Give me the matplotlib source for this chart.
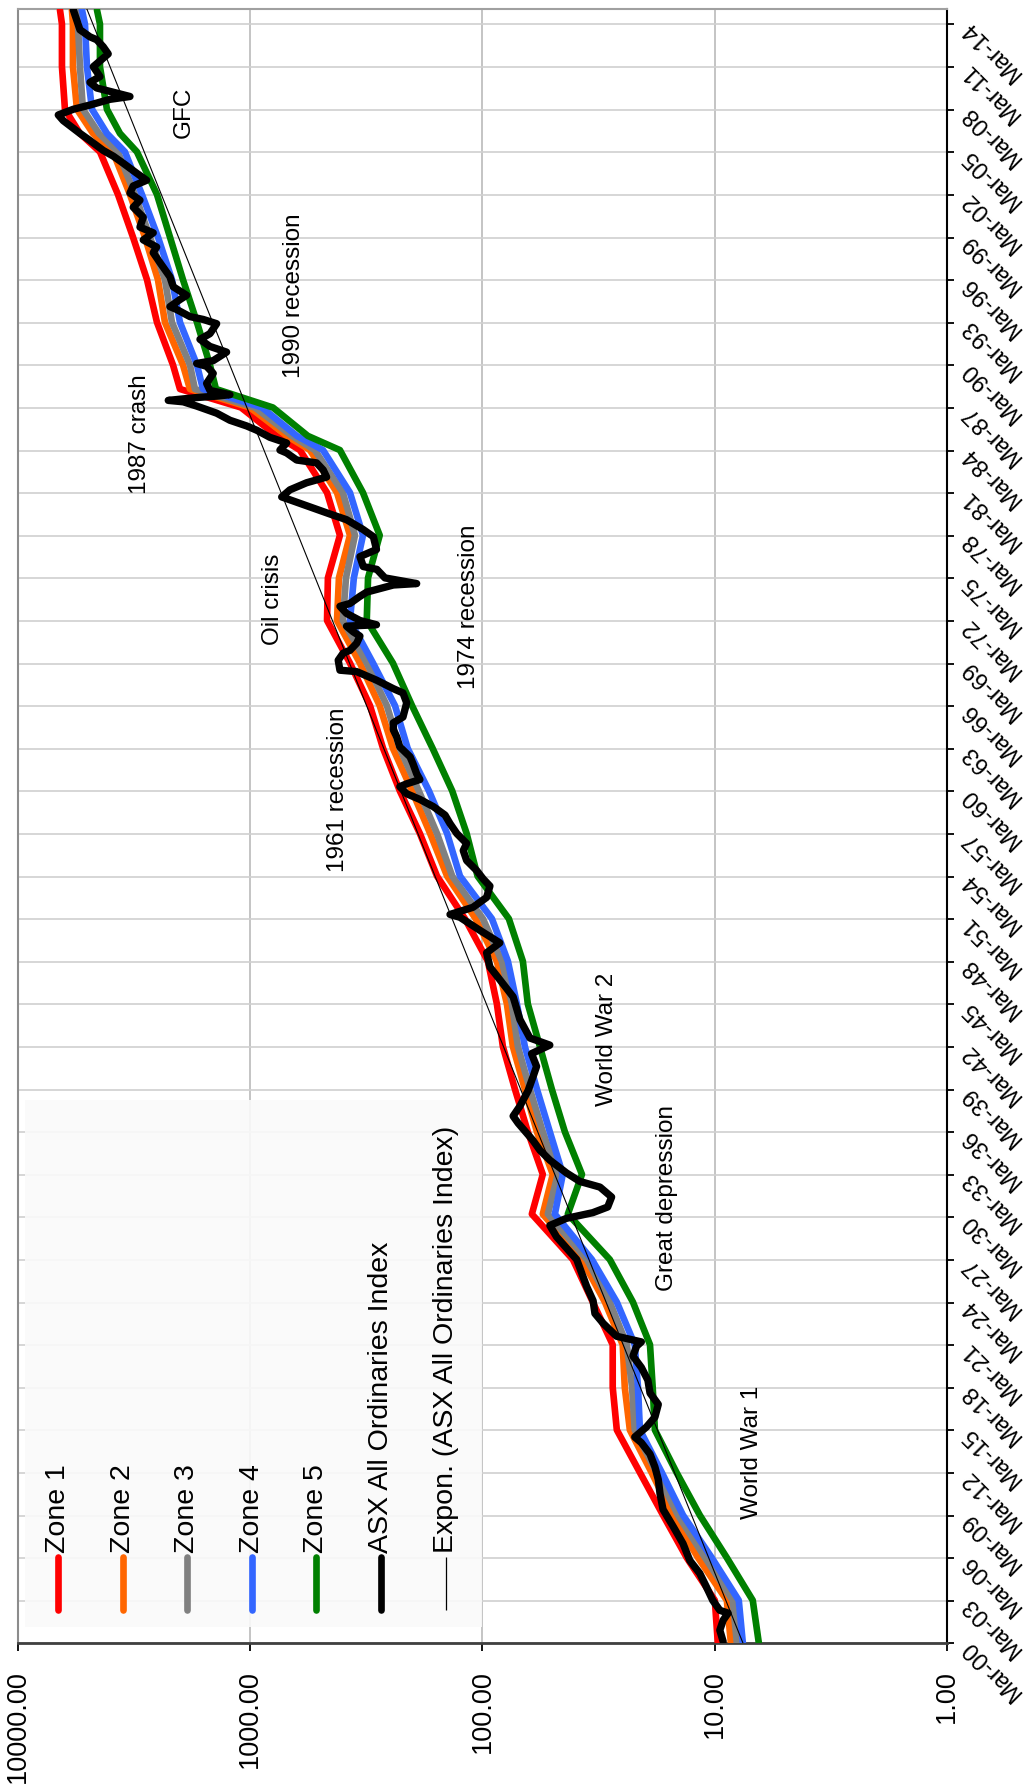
import matplotlib
matplotlib.use("Agg")
import matplotlib.pyplot as plt
from matplotlib.patches import Rectangle
from matplotlib.ticker import NullLocator

plt.rcParams["font.family"] = ["Liberation Sans", "DejaVu Sans"]

# 各ゾーンの読み取り値 (3年ごと)
zone_years = [1900.2, 1903.2, 1906.2, 1909.2, 1912.2, 1915.2, 1918.2, 1921.2, 1924.2, 1927.2,
              1930.4, 1933.2, 1936.2, 1939.2, 1942.2, 1945.2, 1948.2, 1951.2, 1954.2, 1957.2,
              1960.2, 1963.2, 1966.2, 1969.2, 1972.2, 1975.2, 1978.2, 1981.2, 1984.2, 1985.2,
              1987.2, 1988.5, 1990.2, 1993.2, 1996.2, 1999.2, 2002.2, 2005.2, 2006.5, 2008.2,
              2011.2, 2014.2, 2015.2]
zone1 = [9.70, 9.99, 13.2, 16.7, 21.0, 26.4, 27.5, 27.5, 33.5, 40.8,
         61.3, 55.0, 63.8, 72.5, 81.7, 86.7, 94.8, 119, 157, 186,
         227, 268, 305, 372, 467, 463, 411, 467, 611, 768,
         1096, 2007, 2151, 2521, 2783, 3198, 3711, 4436, 5409, 6277,
         6466, 6466, 6595]
zone2 = [8.52, 8.87, 11.8, 15.2, 18.7, 23.2, 24.4, 24.9, 29.7, 37.3,
         55.0, 49.8, 58.3, 65.7, 74.0, 78.5, 86.7, 107, 142, 168,
         201, 243, 277, 337, 423, 415, 372, 423, 553, 695,
         1003, 1818, 1948, 2329, 2496, 2840, 3295, 3899, 4754, 5572,
         5798, 5798, 5856]
zone3 = [8.03, 8.36, 11.0, 14.4, 17.8, 22.1, 22.7, 23.9, 28.3, 35.5,
         52.3, 47.4, 55.0, 62.5, 70.4, 74.7, 82.5, 99.6, 135, 157,
         188, 227, 258, 315, 399, 387, 354, 399, 527, 661,
         955, 1730, 1818, 2173, 2329, 2703, 3136, 3711, 4480, 5251,
         5409, 5517, 5572]
zone4 = [7.57, 7.88, 10.3, 13.7, 16.9, 21.0, 21.4, 22.1, 26.4, 33.8,
         48.8, 45.1, 51.3, 58.3, 65.7, 71.1, 77.7, 91.1, 125, 142,
         170, 210, 238, 296, 372, 358, 327, 372, 486, 630,
         890, 1598, 1696, 2007, 2173, 2496, 2926, 3463, 4140, 4801,
         5047, 5148, 5303]
zone5 = [6.46, 6.86, 8.87, 11.6, 14.6, 18.1, 18.5, 19.0, 22.5, 28.3,
         42.9, 37.3, 44.2, 50.3, 56.6, 63.8, 67.0, 77.0, 105, 117,
         135, 164, 201, 243, 315, 311, 277, 327, 411, 565,
         799, 1405, 1491, 1696, 1948, 2216, 2521, 3074, 3638, 4140,
         4436, 4436, 4570]

# ASX All Ordinaries Index
asx_years = [1900.3, 1901.1, 1901.8, 1902.3, 1902.5, 1903.2, 1904.2, 1905.1, 1906.0, 1907.2,
             1908.4, 1909.6, 1910.7, 1911.7, 1912.6, 1913.5, 1914.3, 1914.7, 1915.4, 1916.1,
             1917.0, 1917.8, 1918.7, 1919.6, 1920.4, 1921.1, 1921.4, 1921.8, 1922.7, 1923.4,
             1924.3, 1925.3, 1927.2, 1928.8, 1929.6, 1930.1, 1930.5, 1930.9, 1931.6, 1932.3,
             1932.7, 1933.3, 1934.2, 1934.9, 1935.6, 1936.8, 1937.3, 1938.0, 1939.1, 1940.1,
             1940.8, 1941.7, 1942.3, 1942.8, 1944.1, 1945.7, 1946.9, 1947.8, 1948.8, 1949.5,
             1950.4, 1951.3, 1951.5, 1952.0, 1952.7, 1953.5, 1954.0, 1954.6, 1955.3, 1956.0,
             1956.5, 1957.2, 1957.9, 1958.5, 1959.1, 1959.6, 1960.0, 1960.5, 1960.7, 1961.0,
             1961.4, 1962.1, 1962.6, 1963.3, 1964.0, 1964.5, 1965.0, 1965.4, 1966.4, 1967.1,
             1967.4, 1968.0, 1968.6, 1968.7, 1969.4, 1969.9, 1970.1, 1970.6, 1971.1, 1971.4,
             1971.8, 1971.9, 1972.2, 1972.7, 1973.2, 1973.4, 1973.9, 1974.2, 1974.7, 1974.8,
             1975.2, 1975.8, 1976.0, 1976.7, 1977.2, 1978.1, 1978.6, 1979.3, 1979.7, 1980.2,
             1980.7, 1980.9, 1981.4, 1981.9, 1982.3, 1982.8, 1983.3, 1983.5, 1984.0, 1984.2,
             1984.7, 1985.1, 1985.6, 1985.9, 1986.3, 1986.8, 1987.3, 1987.6, 1987.7, 1987.9,
             1988.0, 1988.1, 1988.4, 1988.9, 1989.6, 1990.1, 1990.3, 1990.5, 1991.1, 1991.5,
             1992.0, 1992.4, 1993.1, 1993.4, 1993.6, 1994.1, 1994.3, 1994.8, 1995.1, 1995.7,
             1996.4, 1997.4, 1998.1, 1998.5, 1999.0, 1999.5, 1999.9, 2000.6, 2001.3, 2001.8,
             2002.3, 2002.8, 2003.2, 2003.7, 2004.4, 2004.9, 2005.3, 2006.0, 2006.5, 2007.4,
             2007.8, 2008.2, 2008.5, 2008.9, 2009.1, 2009.4, 2009.7, 2010.1, 2010.5, 2011.2,
             2011.7, 2012.1, 2012.6, 2013.1, 2013.3, 2013.8, 2014.5, 2015.2]
asx_values = [9.20, 9.51, 9.20, 8.76, 9.51, 10.2, 10.9, 11.6, 12.8, 13.7,
              15.1, 16.7, 17.2, 17.5, 18.1, 19.0, 20.7, 22.1, 19.7, 18.1,
              17.5, 19.0, 19.4, 20.7, 22.5, 21.7, 20.7, 26.5, 30.2, 32.8,
              33.4, 35.6, 39.3, 48.0, 51.3, 43.5, 33.5, 28.9, 27.8, 31.2,
              38.1, 43.5, 51.3, 56.6, 60.7, 70.2, 73.8, 69.0, 63.6, 60.5,
              58.5, 61.5, 51.3, 62.5, 69.0, 73.8, 84.2, 92.9, 96.0, 84.2,
              103, 125, 138, 110, 96.0, 92.9, 99.3, 106, 117, 121,
              117, 129, 138, 145, 163, 186, 212, 227, 212, 186,
              192, 199, 205, 227, 234, 242, 242, 220, 212, 220,
              242, 286, 348, 411, 418, 398, 372, 348, 337, 360,
              385, 286, 337, 385, 411, 372, 337, 315, 242, 192,
              263, 285, 326, 337, 286, 295, 326, 385, 454, 553,
              675, 732, 675, 572, 469, 485, 518, 631, 697, 745,
              697, 823, 938, 1036, 1223, 1395, 1701, 1943, 2254, 1701,
              1395, 1223, 1491, 1541, 1443, 1541, 1701, 1443, 1264, 1491,
              1646, 1491, 1395, 1593, 1818, 2074, 2216, 2007, 1878, 2145,
              2216, 2447, 2616, 2529, 2888, 2616, 2984, 2888, 3189, 2984,
              3295, 3189, 2793, 3083, 3522, 3888, 4294, 4898, 5409, 6383,
              6707, 5780, 4898, 4018, 3295, 3888, 4584, 4898, 4436, 4740,
              4362, 4087, 4294, 4584, 4898, 5409, 5589, 5780]

# 指数近似線の両端
trend_years = [1900.17, 2015.24]
trend_values = [7.55, 5045]

# 凡例
legend_labels = ["Zone 1", "Zone 2", "Zone 3", "Zone 4", "Zone 5",
                 "ASX All Ordinaries Index", "Expon. (ASX All Ordinaries Index)"]
legend_colors = ["#ff0000", "#ff6600", "#808080", "#3366ff", "#008000", "black", "black"]

# 注記
note_texts = ["GFC", "1990 recession", "1987 crash", "Oil crisis", "1974 recession",
              "1961 recession", "World War 2", "Great depression", "World War 1"]
note_values = [1930, 649, 2984, 798, 114, 419, 29.1, 16.1, 6.92]
note_years = [2008.0, 1995.1, 1985.3, 1973.7, 1973.2, 1960.3, 1942.7, 1931.5, 1913.6]

value_ticks = [10000, 1000, 100, 10, 1]
value_labels = ["10000.00", "1000.00", "100.00", "10.00", "1.00"]
date_ticks = [y + 0.17 for y in range(1900, 2015, 3)]
date_labels = ["Mar-%02d" % (y % 100) for y in range(1900, 2015, 3)]

fig = plt.figure(figsize=(10.27, 17.89), dpi=100)
ax = fig.add_axes([0.0175, 0.0814, 0.9046, 0.9134])

zones = [zone1, zone2, zone3, zone4, zone5]
for z, c in zip(zones, legend_colors[:5]):
    ax.plot(z, zone_years, color=c, lw=4.8, solid_capstyle="round", solid_joinstyle="round", zorder=3)
ax.plot(asx_values, asx_years, color="black", lw=5.3, solid_capstyle="round", solid_joinstyle="round", zorder=4)
ax.plot(trend_values, trend_years, color="black", lw=0.8, zorder=5)

# 注記テキスト
for t, v, yr in zip(note_texts, note_values, note_years):
    ax.text(v, yr, t, rotation=90, ha="center", va="center", fontsize=17.5, zorder=6)

# 凡例 (回転しているので手書き)
ax.add_patch(Rectangle((0.0075, 0.010), 0.492, 0.3225, transform=ax.transAxes,
                       facecolor="#fafafa", edgecolor="none", alpha=0.9, zorder=7))
leg_x = [0.0434, 0.1127, 0.1822, 0.2522, 0.3208, 0.3908, 0.4608]
for i, (lab, c) in enumerate(zip(legend_labels, legend_colors)):
    lw = 0.9 if i == 6 else 4.8
    ax.plot([leg_x[i], leg_x[i]], [0.0204, 0.0528], transform=ax.transAxes, color=c, lw=lw,
            solid_capstyle="round" if i < 6 else "butt", zorder=8)
    ax.text(leg_x[i], 0.0553, lab, transform=ax.transAxes, rotation=90, ha="center", va="bottom",
            fontsize=20.5, zorder=8)

# 軸の設定
ax.set_xscale("log")
ax.set_xlim(10000, 1)
ax.set_ylim(1900.17, 2015.24)
ax.xaxis.set_minor_locator(NullLocator())
ax.set_xticks(value_ticks)
ax.set_xticklabels(value_labels, rotation=90, va="top", ha="center")
ax.tick_params(axis="x", direction="out", length=6, width=1.3, pad=13, labelsize=19.5)

ax.yaxis.tick_right()
ax.tick_params(axis="y", direction="out", length=5, width=1.3, pad=8, labelsize=17)
ax.set_yticks(date_ticks, date_labels, rotation=135, rotation_mode="anchor", ha="right", va="center")

ax.set_axisbelow(True)
ax.grid(axis="x", color="#c4c4c4", lw=1.4)
ax.grid(axis="y", color="#d0d0d0", lw=1.2)

ax.spines["left"].set_color("#8c8c8c")
ax.spines["left"].set_linewidth(1.5)
ax.spines["top"].set_color("#a0a0a0")
ax.spines["top"].set_linewidth(1.5)
ax.spines["bottom"].set_color("#404040")
ax.spines["bottom"].set_linewidth(2)
ax.spines["right"].set_color("black")
ax.spines["right"].set_linewidth(1.5)

fig.savefig("out.png", dpi=100)
plt.close(fig)
